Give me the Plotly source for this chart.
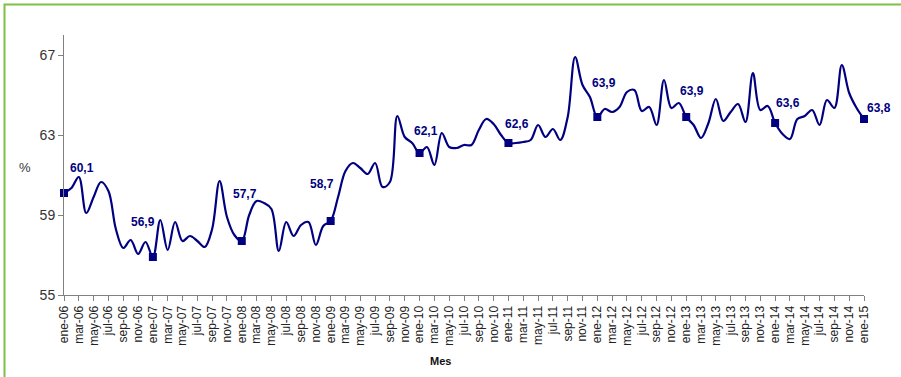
import plotly.graph_objects as go

# Monthly values, ene-06 .. ene-15
values = [
    60.1, 60.35, 60.9, 59.1, 59.9, 60.65, 60.2, 58.3, 57.35, 57.75, 57.05, 57.65,  # 2006
    56.9, 58.75, 57.25, 58.65, 57.7, 57.95, 57.7, 57.4, 58.3, 60.7, 58.9, 58.0,     # 2007
    57.7, 59.0, 59.7, 59.6, 59.3, 57.2, 58.65, 57.95, 58.5, 58.65, 57.5, 58.45,    # 2008
    58.7, 59.9, 61.2, 61.6, 61.35, 61.05, 61.6, 60.4, 60.65, 63.95, 62.9, 62.6,    # 2009
    62.1, 62.4, 61.5, 63.1, 62.4, 62.35, 62.5, 62.5, 63.25, 63.8, 63.55, 63.0,     # 2010
    62.6, 62.6, 62.65, 62.75, 63.5, 62.9, 63.3, 62.75, 63.9, 66.9, 65.5, 64.9,     # 2011
    63.9, 64.3, 64.15, 64.4, 65.15, 65.25, 64.2, 64.4, 63.5, 65.75, 64.35, 64.6,   # 2012
    63.9, 63.5, 62.85, 63.6, 64.8, 63.7, 64.15, 64.55, 63.65, 66.1, 64.25, 64.45,  # 2013
    63.6, 63.05, 62.8, 63.8, 63.95, 64.25, 63.5, 64.75, 64.35, 66.5, 65.1, 64.35,  # 2014
    63.8,                                                                            # 2015
]
month_names = ["ene", "feb", "mar", "abr", "may", "jun", "jul", "ago", "sep", "oct", "nov", "dic"]
years = ["06", "07", "08", "09", "10", "11", "12", "13", "14", "15"]
labels = [f"{m}-{y}" for y in years for m in month_names][:len(values)]

# January points (marked and labelled)
jan_idx = list(range(0, len(values), 12))
jan_vals = [values[i] for i in jan_idx]
label_dx = [18, -10, 3, -9, 6, 9, 7, 6, 13, 15]
label_dy = [25, 35, 47, 37, 22, 19, 34, 26, 20, 11]

NAVY = "#000080"
x = list(range(len(values)))

fig = go.Figure()
fig.add_trace(go.Scatter(
    x=x, y=values, mode="lines",
    line=dict(color=NAVY, width=2.2, shape="spline", smoothing=1.0),
    hoverinfo="skip", showlegend=False,
))
fig.add_trace(go.Scatter(
    x=jan_idx, y=jan_vals, mode="markers",
    marker=dict(symbol="square", size=8, color=NAVY),
    showlegend=False, cliponaxis=False,
))

for i, v, dx, dy in zip(jan_idx, jan_vals, label_dx, label_dy):
    fig.add_annotation(
        x=i, y=v, text=f"{v:.1f}".replace(".", ","), showarrow=False,
        xshift=dx, yshift=dy, xanchor="center", yanchor="middle",
        font=dict(family="Liberation Sans, Arial", size=12, color=NAVY, weight="bold"),
    )

tick_idx = list(range(0, len(values), 2))
fig.update_xaxes(
    range=[0, len(values) - 1], tickmode="array",
    tickvals=tick_idx, ticktext=[labels[i] for i in tick_idx],
    tickangle=-90, ticks="outside", ticklen=5, tickcolor="#808080",
    showline=True, linecolor="#808080", linewidth=1,
    showgrid=False, zeroline=False,
    tickfont=dict(family="Liberation Sans, Arial", size=12, color="#222222"),
)
fig.update_yaxes(
    range=[55, 68], tickvals=[55, 59, 63, 67],
    ticks="outside", ticklen=5, tickcolor="#808080",
    showline=True, linecolor="#808080", linewidth=1,
    showgrid=False, zeroline=False,
    tickfont=dict(family="Liberation Sans, Arial", size=14, color="#333333"),
)

fig.add_annotation(
    xref="paper", yref="paper", x=(25 - 64) / 800, y=(295 - 167) / 260,
    xanchor="center", yanchor="middle",
    text="%", showarrow=False,
    font=dict(family="Liberation Sans, Arial", size=13, color="#333333"),
)
fig.add_annotation(
    xref="paper", yref="paper", x=(440 - 64) / 800, y=(295 - 361) / 260,
    xanchor="center", yanchor="middle",
    text="Mes", showarrow=False,
    font=dict(family="Liberation Sans, Arial", size=11, color="#111111", weight="bold"),
)

# green frame (left and top edges visible)
fig.add_shape(
    type="rect", xref="paper", yref="paper",
    x0=(4.5 - 64) / 800, x1=1.2, y0=-0.6, y1=(295 - 4.5) / 260,
    line=dict(color="#7DC242", width=2), layer="below",
)

fig.update_layout(
    width=901, height=377,
    margin=dict(l=64, r=37, t=35, b=82),
    paper_bgcolor="white", plot_bgcolor="white",
)
fig.write_html(
    "out.html",
    config={"displayModeBar": False},
    post_script="document.body.style.margin='0';document.body.style.padding='0';",
)
